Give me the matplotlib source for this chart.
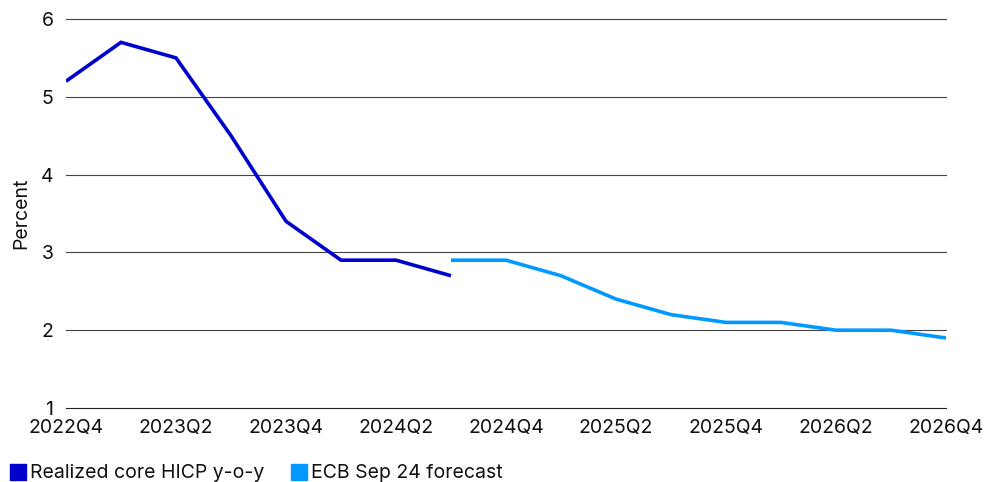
import matplotlib
matplotlib.use("Agg")
import matplotlib.pyplot as plt
from matplotlib.lines import Line2D

plt.rcParams['font.family'] = ['Inter', 'DejaVu Sans']

quarters = ["2022Q4", "2023Q1", "2023Q2", "2023Q3", "2023Q4", "2024Q1", "2024Q2",
            "2024Q3", "2024Q4", "2025Q1", "2025Q2", "2025Q3", "2025Q4", "2026Q1",
            "2026Q2", "2026Q3", "2026Q4"]
realized_quarters = quarters[:8]
realized = [5.2, 5.7, 5.5, 4.5, 3.4, 2.9, 2.9, 2.7]
forecast_quarters = quarters[7:]
forecast = [2.9, 2.9, 2.7, 2.4, 2.2, 2.1, 2.1, 2.0, 2.0, 1.9]

realized_color = "#0000CC"
forecast_color = "#0099FF"
text_color = "#111111"
fs = 14

fig = plt.figure(figsize=(9.92, 4.82), dpi=100)
ax = fig.add_axes([66 / 992, 1 - 408 / 482, 880 / 992, 389 / 482])

pos = {q: i for i, q in enumerate(quarters)}
ax.plot([pos[q] for q in realized_quarters], realized, color=realized_color,
        lw=2.6, solid_capstyle='butt', solid_joinstyle='miter', zorder=3)
ax.plot([pos[q] for q in forecast_quarters], forecast, color=forecast_color,
        lw=2.6, solid_capstyle='butt', solid_joinstyle='miter', zorder=3)

ax.set_xlim(0, len(quarters) - 1)
ax.set_ylim(1, 6)
ax.set_yticks([1, 2, 3, 4, 5, 6])
ax.set_xticks(range(0, len(quarters), 2))
ax.set_xticklabels(quarters[::2])
for y in [1, 2, 3, 4, 5, 6]:
    ax.axhline(y, color="#222222" if y == 1 else "#444444", lw=0.8, zorder=1,
               clip_on=False)
for s in ax.spines.values():
    s.set_visible(False)
ax.tick_params(axis='both', length=0, labelsize=fs, colors=text_color)
ax.tick_params(axis='y', pad=9)
ax.tick_params(axis='x', pad=8)
ax.set_ylabel("Percent", fontsize=fs, color=text_color, labelpad=8)

handles = [Line2D([], [], marker='s', ls='none', color=realized_color, markersize=12),
           Line2D([], [], marker='s', ls='none', color=forecast_color, markersize=12)]
fig.legend(handles, ["Realized core HICP y-o-y", "ECB Sep 24 forecast"],
           loc='lower left', bbox_to_anchor=(-0.001, -0.025), ncol=2, frameon=False,
           fontsize=fs, handlelength=0.8, handletextpad=0.2, columnspacing=1.4,
           borderaxespad=0.2, labelcolor=text_color)

fig.savefig("out.png", dpi=100)
